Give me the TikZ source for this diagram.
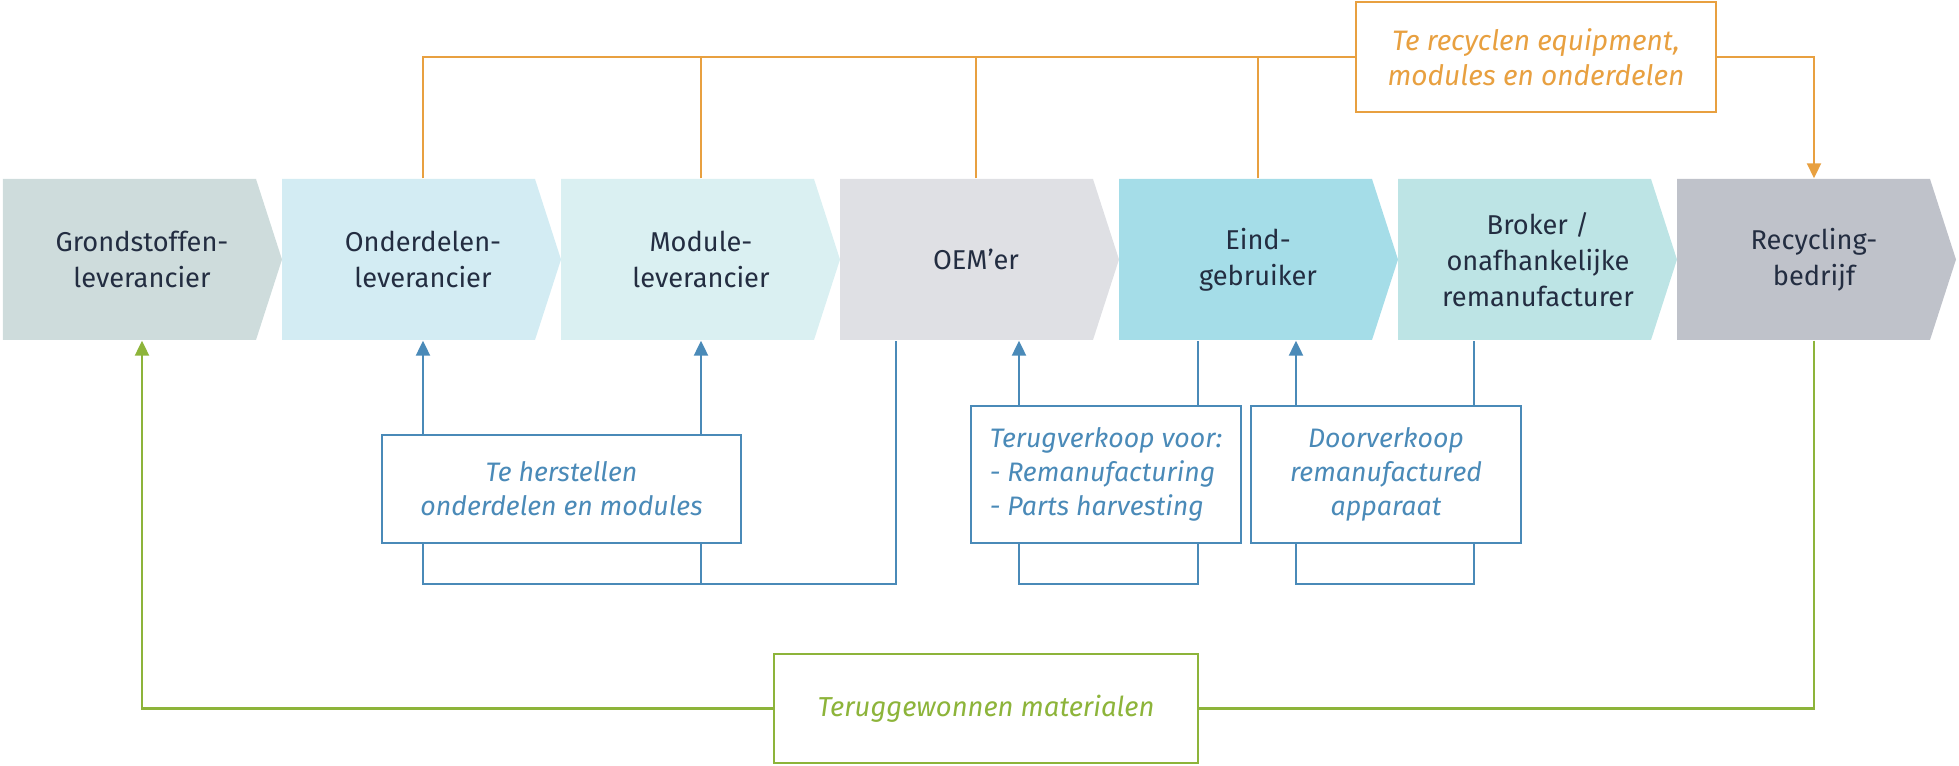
\documentclass[tikz,border=0pt]{standalone}
\usepackage{fontspec}
\setmainfont{Fira Sans}
\usetikzlibrary{arrows.meta}

\definecolor{navy}{RGB}{35,45,65}
\definecolor{cgrond}{RGB}{206,220,220}
\definecolor{conder}{RGB}{211,236,243}
\definecolor{cmodule}{RGB}{218,240,242}
\definecolor{coem}{RGB}{223,224,228}
\definecolor{ceind}{RGB}{165,221,232}
\definecolor{cbroker}{RGB}{189,228,229}
\definecolor{crecyc}{RGB}{191,194,202}
\definecolor{orangec}{RGB}{232,160,64}
\definecolor{bluec}{RGB}{74,138,184}
\definecolor{greenc}{RGB}{141,180,58}

\begin{document}
\begin{tikzpicture}[
    chev/.style={minimum width=2.53cm, minimum height=1.61cm, inner sep=0pt,
      align=center, text=navy, font=\fontsize{7.75}{10.3}\selectfont},
    infobox/.style={draw, line width=0.6pt, fill=white, inner sep=2pt,
      align=center, font=\fontsize{7.6}{9.7}\selectfont\itshape},
    oline/.style={draw=orangec, line width=0.6pt},
    bline/.style={draw=bluec, line width=0.6pt},
    gline/.style={draw=greenc, line width=0.6pt},
    tip/.style={-{Triangle[length=1.5mm,width=1.4mm]}}]
        \useasboundingbox (0,0) rectangle (19.59,7.66);
        % de keten
        \fill[cgrond] (0.03,4.26) -- ++(2.53,0) -- ++(0.26,0.805) -- ++(-0.26,0.805) -- ++(-2.53,0) -- cycle;
        \node[chev] (grond) at (1.42,5.065) {Grondstoffen-\\leverancier};
        \fill[conder] (2.82,4.26) -- ++(2.53,0) -- ++(0.26,0.805) -- ++(-0.26,0.805) -- ++(-2.53,0) -- cycle;
        \node[chev] (onder) at (4.23,5.065) {Onderdelen-\\leverancier};
        \fill[cmodule] (5.61,4.26) -- ++(2.53,0) -- ++(0.26,0.805) -- ++(-0.26,0.805) -- ++(-2.53,0) -- cycle;
        \node[chev] (module) at (7.01,5.065) {Module-\\leverancier};
        \fill[coem] (8.40,4.26) -- ++(2.53,0) -- ++(0.26,0.805) -- ++(-0.26,0.805) -- ++(-2.53,0) -- cycle;
        \node[chev] (oem) at (9.76,5.065) {OEM’er};
        \fill[ceind] (11.19,4.26) -- ++(2.53,0) -- ++(0.26,0.805) -- ++(-0.26,0.805) -- ++(-2.53,0) -- cycle;
        \node[chev] (eind) at (12.58,5.065) {Eind-\\gebruiker};
        \fill[cbroker] (13.98,4.26) -- ++(2.53,0) -- ++(0.26,0.805) -- ++(-0.26,0.805) -- ++(-2.53,0) -- cycle;
        \node[chev] (broker) at (15.38,5.065) {Broker /\\onafhankelijke\\remanufacturer};
        \fill[crecyc] (16.77,4.26) -- ++(2.53,0) -- ++(0.26,0.805) -- ++(-0.26,0.805) -- ++(-2.53,0) -- cycle;
        \node[chev] (recyc) at (18.14,5.065) {Recycling-\\bedrijf};
        % recycling bovenlangs
        \node[infobox, draw=orangec, text=orangec, minimum width=3.60cm, minimum height=1.10cm, font=\fontsize{8}{9.9}\selectfont\itshape] (recbox) at (15.36,7.09) {Te recyclen equipment,\\modules en onderdelen};
        \draw[oline] (onder.north) |- (recbox.west);
        \draw[oline] (module.north) -- (module.north |- recbox.west);
        \draw[oline] (oem.north) -- (oem.north |- recbox.west);
        \draw[oline] (eind.north) -- (eind.north |- recbox.west);
        \draw[oline, tip] (recbox.east) -| (recyc.north);
        % herstel
        \node[infobox, draw=bluec, text=bluec, minimum width=3.59cm, minimum height=1.08cm] (herst) at (5.615,2.77) {Te herstellen\\onderdelen en modules};
        \draw[bline, tip] (onder.south |- herst.north) -- (onder.south);
        \draw[bline, tip] (module.south |- herst.north) -- (module.south);
        \draw[bline] (onder.south |- herst.south) -- ++(0,-0.40) -| ([xshift=-0.80cm]oem.south);
        \draw[bline] (module.south |- herst.south) -- ++(0,-0.40);
        % terugverkoop
        \node[infobox, draw=bluec, text=bluec, minimum width=2.70cm, minimum height=1.37cm, align=left] (ruil) at (11.06,2.915) {Terugverkoop voor:\\- Remanufacturing\\- Parts harvesting};
        \draw[bline, tip] ([xshift=-0.87cm]ruil.north) -- ([xshift=-0.87cm]ruil.north |- oem.south);
        \draw[bline] ([xshift=0.92cm]ruil.north) -- ([xshift=0.92cm]ruil.north |- eind.south);
        \draw[bline] ([xshift=-0.87cm]ruil.south) -- ++(0,-0.40) -| ([xshift=0.92cm]ruil.south);
        % doorverkoop
        \node[infobox, draw=bluec, text=bluec, minimum width=2.70cm, minimum height=1.37cm] (door) at (13.86,2.915) {Doorverkoop\\remanufactured\\apparaat};
        \draw[bline, tip] ([xshift=-0.90cm]door.north) -- ([xshift=-0.90cm]door.north |- eind.south);
        \draw[bline] ([xshift=0.88cm]door.north) -- ([xshift=0.88cm]door.north |- broker.south);
        \draw[bline] ([xshift=-0.90cm]door.south) -- ++(0,-0.40) -| ([xshift=0.88cm]door.south);
        % materialen terug
        \node[infobox, draw=greenc, text=greenc, minimum width=4.24cm, minimum height=1.09cm, font=\fontsize{7.8}{9.7}\selectfont\itshape] (terug) at (9.86,0.575) {Teruggewonnen materialen};
        \draw[gline] (recyc.south) |- (terug.east);
        \draw[gline, tip] (terug.west) -| (grond.south);
\end{tikzpicture}
\end{document}
